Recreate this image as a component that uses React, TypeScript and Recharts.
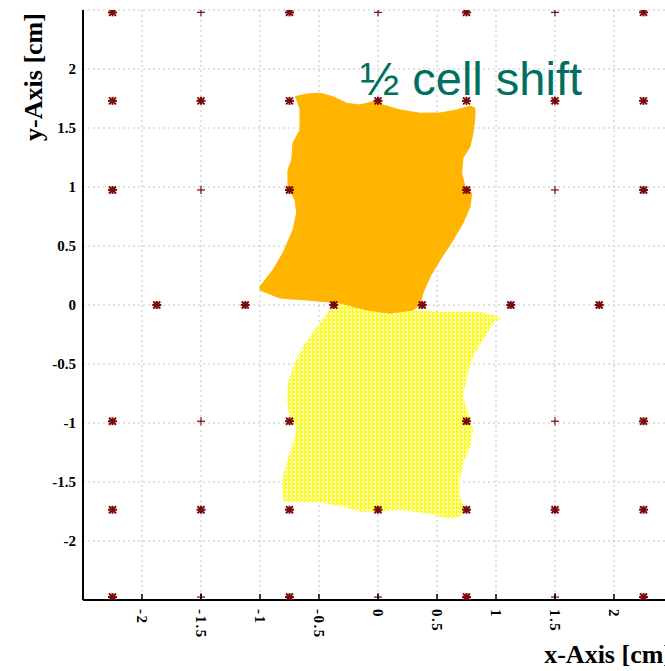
import React from 'react';
import { ComposedChart, Scatter, XAxis, YAxis, CartesianGrid } from 'recharts';

const axisTicks = [-2, -1.5, -1, -0.5, 0, 0.5, 1, 1.5, 2];

// wire positions drawn with the star marker
const starMarks = [
  { x: -2.25, y: 2.48 }, { x: -0.75, y: 2.48 }, { x: 0.75, y: 2.48 }, { x: 2.25, y: 2.48 },
  { x: -2.25, y: 1.73 }, { x: -1.5, y: 1.73 }, { x: -0.75, y: 1.73 }, { x: 0, y: 1.73 },
  { x: 0.75, y: 1.73 }, { x: 1.5, y: 1.73 }, { x: 2.25, y: 1.73 },
  { x: -2.25, y: 0.975 }, { x: -0.75, y: 0.975 }, { x: 0.75, y: 0.975 }, { x: 2.25, y: 0.975 },
  { x: -1.875, y: 0 }, { x: -1.125, y: 0 }, { x: -0.375, y: 0 },
  { x: 0.375, y: 0 }, { x: 1.125, y: 0 }, { x: 1.875, y: 0 },
  { x: -2.25, y: -0.985 }, { x: -0.75, y: -0.985 }, { x: 0.75, y: -0.985 }, { x: 2.25, y: -0.985 },
  { x: -2.25, y: -1.735 }, { x: -1.5, y: -1.735 }, { x: -0.75, y: -1.735 }, { x: 0, y: -1.735 },
  { x: 0.75, y: -1.735 }, { x: 1.5, y: -1.735 }, { x: 2.25, y: -1.735 },
  { x: -2.25, y: -2.475 }, { x: -0.75, y: -2.475 }, { x: 0.75, y: -2.475 }, { x: 2.25, y: -2.475 },
];

// wire positions drawn with the small cross
const plusMarks = [
  { x: -1.5, y: 2.48 }, { x: 0, y: 2.48 }, { x: 1.5, y: 2.48 },
  { x: -1.5, y: 0.975 }, { x: 0, y: 0.975 }, { x: 1.5, y: 0.975 },
  { x: -1.5, y: -0.985 }, { x: 0, y: -0.985 }, { x: 1.5, y: -0.985 },
  { x: -1.5, y: -2.475 }, { x: 0, y: -2.475 }, { x: 1.5, y: -2.475 },
];

// outline of the shifted cell (orange)
const shiftedCell = [
  { x: -0.703, y: 1.765 }, { x: -0.604, y: 1.788 }, { x: -0.492, y: 1.794 }, { x: -0.381, y: 1.765 },
  { x: -0.265, y: 1.709 }, { x: -0.153, y: 1.695 }, { x: -0.042, y: 1.723 }, { x: 0.042, y: 1.695 },
  { x: 0.186, y: 1.653 }, { x: 0.356, y: 1.625 }, { x: 0.525, y: 1.627 }, { x: 0.667, y: 1.653 },
  { x: 0.78, y: 1.686 }, { x: 0.822, y: 1.669 }, { x: 0.822, y: 1.596 }, { x: 0.805, y: 1.458 },
  { x: 0.78, y: 1.342 }, { x: 0.72, y: 1.246 }, { x: 0.709, y: 1.119 }, { x: 0.737, y: 1.003 },
  { x: 0.794, y: 0.949 }, { x: 0.78, y: 0.833 }, { x: 0.72, y: 0.695 }, { x: 0.636, y: 0.551 },
  { x: 0.525, y: 0.381 }, { x: 0.441, y: 0.24 }, { x: 0.381, y: 0.102 }, { x: 0.356, y: 0.0 },
  { x: 0.297, y: -0.042 }, { x: 0.102, y: -0.07 }, { x: -0.096, y: -0.042 }, { x: -0.322, y: 0.017 },
  { x: -0.604, y: 0.042 }, { x: -0.831, y: 0.059 }, { x: -1.0, y: 0.127 }, { x: -1.0, y: 0.155 },
  { x: -0.89, y: 0.297 }, { x: -0.805, y: 0.441 }, { x: -0.72, y: 0.636 }, { x: -0.689, y: 0.78 },
  { x: -0.703, y: 0.89 }, { x: -0.763, y: 1.003 }, { x: -0.763, y: 1.144 }, { x: -0.731, y: 1.229 },
  { x: -0.72, y: 1.373 }, { x: -0.661, y: 1.483 }, { x: -0.661, y: 1.653 },
];

// outline of the unshifted cell (yellow)
const baseCell = [
  { x: -0.336, y: 0.014 }, { x: -0.153, y: 0 }, { x: 0.127, y: -0.025 }, { x: 0.271, y: -0.042 },
  { x: 0.466, y: -0.057 }, { x: 0.695, y: -0.057 }, { x: 0.864, y: -0.057 }, { x: 0.975, y: -0.085 },
  { x: 1.048, y: -0.113 }, { x: 0.975, y: -0.153 }, { x: 0.89, y: -0.297 }, { x: 0.805, y: -0.438 },
  { x: 0.752, y: -0.608 }, { x: 0.72, y: -0.777 }, { x: 0.763, y: -0.915 }, { x: 0.805, y: -1.059 },
  { x: 0.78, y: -1.201 }, { x: 0.72, y: -1.339 }, { x: 0.695, y: -1.483 }, { x: 0.695, y: -1.625 },
  { x: 0.737, y: -1.737 }, { x: 0.695, y: -1.794 }, { x: 0.582, y: -1.808 }, { x: 0.413, y: -1.765 },
  { x: 0.186, y: -1.737 }, { x: 0.017, y: -1.752 }, { x: -0.153, y: -1.752 }, { x: -0.297, y: -1.709 },
  { x: -0.466, y: -1.678 }, { x: -0.661, y: -1.667 }, { x: -0.805, y: -1.667 }, { x: -0.816, y: -1.483 },
  { x: -0.774, y: -1.339 }, { x: -0.72, y: -1.169 }, { x: -0.689, y: -1.031 }, { x: -0.746, y: -0.975 },
  { x: -0.774, y: -0.805 }, { x: -0.763, y: -0.661 }, { x: -0.72, y: -0.523 }, { x: -0.636, y: -0.353 },
  { x: -0.519, y: -0.184 }, { x: -0.407, y: -0.042 },
];

const serif = '"Liberation Serif", "Times New Roman", serif';
const markColor = '#7a0808';

const StarMark = (props: any) => {
  const { cx, cy } = props;
  return (
    <g stroke={markColor} strokeWidth={2}>
      <line x1={cx - 4.5} y1={cy} x2={cx + 4.5} y2={cy} />
      <line x1={cx} y1={cy - 4} x2={cx} y2={cy + 4} />
      <line x1={cx - 3.5} y1={cy - 3.5} x2={cx + 3.5} y2={cy + 3.5} />
      <line x1={cx - 3.5} y1={cy + 3.5} x2={cx + 3.5} y2={cy - 3.5} />
    </g>
  );
};

const PlusMark = (props: any) => {
  const { cx, cy } = props;
  return (
    <g stroke={markColor} strokeWidth={1.2}>
      <line x1={cx - 4} y1={cy} x2={cx + 4} y2={cy} />
      <line x1={cx} y1={cy - 4} x2={cx} y2={cy + 4} />
    </g>
  );
};

const NoDot = () => <g />;

const BottomTick = (props: any) => {
  const { x, y, payload } = props;
  return (
    <g>
      <line x1={x} y1={y - 6} x2={x} y2={y} stroke="#000" strokeWidth={1.5} />
      <text
        x={x}
        y={y + 9}
        transform={`rotate(90, ${x}, ${y + 9})`}
        textAnchor="start"
        dominantBaseline="central"
        fontFamily={serif}
        fontWeight="bold"
        fontSize={15}
        letterSpacing={1.5}
        fill="#000"
      >
        {String(payload.value)}
      </text>
    </g>
  );
};

const TopTick = (props: any) => {
  const { x, y } = props;
  return <line x1={x} y1={y} x2={x} y2={y + 6} stroke="#000" strokeWidth={1.5} />;
};

export default function App() {
  return (
    <div style={{ position: 'absolute', left: 0, top: 0, width: 665, height: 671, overflow: 'hidden', background: '#fff' }}>
      <ComposedChart width={700} height={671} margin={{ top: 10, right: 27, bottom: 0, left: 0 }}>
        <defs>
          <pattern id="cellHatch" width={4} height={4} patternUnits="userSpaceOnUse">
            <rect width={4} height={4} fill="#ffff00" />
            <rect x={1} y={1} width={2} height={2} fill="#ffffff" />
            <rect x={3} y={0} width={1} height={4} fill="#ffff90" />
          </pattern>
        </defs>
        <CartesianGrid stroke="#c4c4c4" strokeDasharray="2 3" />
        <XAxis
          dataKey="x"
          type="number"
          domain={[-2.5, 2.5]}
          ticks={axisTicks}
          interval={0}
          allowDataOverflow
          height={71}
          axisLine={{ stroke: '#000', strokeWidth: 2 }}
          tickLine={false}
          tickSize={0}
          tickMargin={0}
          tick={<BottomTick />}
        />
        <XAxis
          xAxisId="top"
          orientation="top"
          dataKey="x"
          type="number"
          domain={[-2.5, 2.5]}
          ticks={axisTicks}
          interval={0}
          allowDataOverflow
          height={0}
          axisLine={{ stroke: '#000', strokeWidth: 2 }}
          tickLine={false}
          tickSize={0}
          tickMargin={0}
          tick={<TopTick />}
        />
        <YAxis
          dataKey="y"
          type="number"
          domain={[-2.5, 2.5]}
          ticks={axisTicks}
          interval={0}
          allowDataOverflow
          width={83}
          axisLine={{ stroke: '#000', strokeWidth: 2 }}
          tickLine={false}
          tickSize={0}
          tickMargin={7}
          tickFormatter={(v: number) => String(v)}
          tick={{ fontSize: 15, fontWeight: 'bold', fill: '#000', fontFamily: serif }}
        />
        <Scatter data={plusMarks} shape={<PlusMark />} isAnimationActive={false} />
        <Scatter
          data={baseCell}
          shape={<NoDot />}
          line={{ fill: 'url(#cellHatch)', stroke: 'none' }}
          lineJointType="linear"
          isAnimationActive={false}
        />
        <Scatter
          data={shiftedCell}
          shape={<NoDot />}
          line={{ fill: '#ffb400', stroke: '#ffb400', strokeWidth: 1 }}
          lineJointType="linear"
          isAnimationActive={false}
        />
        <Scatter data={starMarks} shape={<StarMark />} isAnimationActive={false} />
        <text x={360} y={95} fill="#006f5f" fontSize={47} fontFamily='"Liberation Sans", Arial, sans-serif'>
          ½ cell shift
        </text>
        <text x={672} y={663} textAnchor="end" fontSize={26} fontWeight="bold" fontFamily={serif} fill="#000">
          x-Axis [cm]
        </text>
        <text
          x={42}
          y={77}
          transform="rotate(-90, 42, 77)"
          textAnchor="middle"
          fontSize={26}
          fontWeight="bold"
          fontFamily={serif}
          fill="#000"
        >
          y-Axis [cm]
        </text>
      </ComposedChart>
    </div>
  );
}
